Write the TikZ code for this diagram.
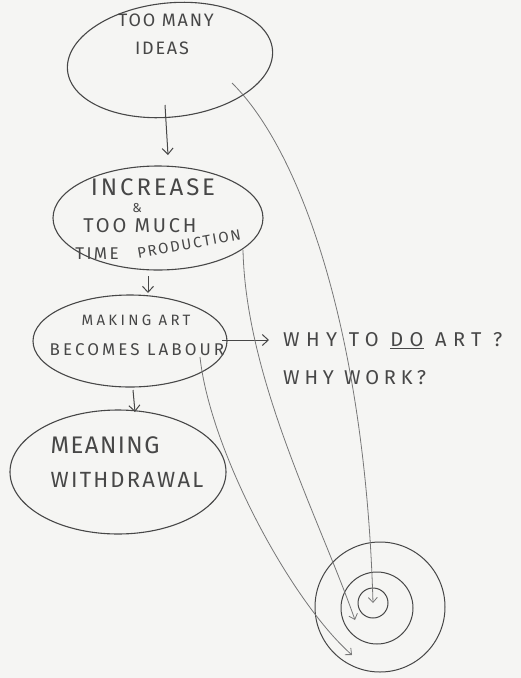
\documentclass[tikz,border=0pt]{standalone}
\usepackage{fontspec}
\setmainfont{Fira Sans}
\usetikzlibrary{arrows.meta,shapes.geometric,calc}
\definecolor{pencil}{HTML}{474747}
\definecolor{faint}{HTML}{777777}
\definecolor{paper}{HTML}{F5F5F3}
\newcommand{\hw}[2]{\fontsize{#1}{#1}\selectfont\addfontfeature{LetterSpace=#2}}
\begin{document}
\begin{tikzpicture}[x=1pt,y=-1pt,
  bubble/.style={draw=pencil, line width=1.1pt, ellipse, inner sep=0pt},
  ring/.style={draw=pencil, line width=1pt, circle, inner sep=0pt},
  hand/.style={text=pencil, inner sep=0pt},
  flow/.style={draw=pencil, line width=1pt, -{Straight Barb[length=6pt,width=11pt]}},
  thread/.style={draw=faint, line width=0.8pt, -{Straight Barb[length=5pt,width=9pt]}}]
\useasboundingbox[fill=paper] (0,0) rectangle (521,678);

% bubbles
\node[bubble, minimum width=206pt, minimum height=114pt, rotate=6] (e1) at (170,60) {};
\node[bubble, minimum width=210pt, minimum height=104pt] (e2) at (158,218) {};
\node[bubble, minimum width=194pt, minimum height=92pt] (e3) at (130,341) {};
\node[bubble, minimum width=216pt, minimum height=124pt] (e4) at (118,472) {};

% target rings
\node[ring, minimum size=30pt] (c1) at (373,603) {};
\node[ring, minimum size=72pt] (c2) at (377,608) {};
\node[ring, minimum size=130pt] (c3) at (380,607) {};

% texts
\node[hand, font=\hw{18}{10}] (t1a) at (166,20) {TOO MANY};
\node[hand, font=\hw{18}{10}] (t1b) at (162,48) {IDEAS};
\node[hand, font=\hw{24}{12}] (t2a) at (153,187) {INCREASE};
\node[hand, font=\hw{13}{0}] (t2b) at (137,208) {\&};
\node[hand, font=\hw{20}{14}] (t2c) at (140,226) {TOO MUCH};
\node[hand, font=\hw{17}{14}] (t2d) at (97,254) {TIME};
\node[hand, font=\hw{15}{12}, rotate=10] (t2e) at (189,244) {PRODUCTION};
\node[hand, font=\hw{15}{22}] (t3a) at (136,320) {MAKING ART};
\node[hand, font=\hw{17}{18}] (t3b) at (137,350) {BECOMES LABOUR};
\node[hand, font=\hw{24}{6}] (t4a) at (105,445) {MEANING};
\node[hand, font=\hw{22}{10}] (t4b) at (127,480) {WITHDRAWAL};
\node[hand, font=\hw{20}{32}, anchor=west] (w1) at (283,341) {WHY TO \underline{DO} ART ?};
\node[hand, font=\hw{20}{24}, anchor=west] (w2) at (283,378) {WHY WORK?};

% flow arrows
\draw[flow] ($(e1.center)+(-5,45)$) -- ($(e2.center)+(10,-63)$);
\draw[flow] ($(e2.center)+(-10,58)$) -- ($(e3.center)+(18,-48)$);
\draw[flow] ($(e3.center)+(3,49)$) -- ($(e4.center)+(17,-60)$);
\draw[flow] ($(e3.center)+(92,-1)$) -- ($(w1.west)+(-14,-1)$);

% threads into the target
\draw[thread] ($(e1.center)+(62,23)$) .. controls (300,150) and (365,330) .. (c1.center);
\draw[thread] ($(e2.center)+(85,32)$) .. controls (246,380) and (320,520) .. ($(c2.center)+(-22,12)$);
\draw[thread] ($(e3.center)+(70,16)$) .. controls (210,450) and (290,600) .. ($(c3.center)+(-28,48)$);
\end{tikzpicture}
\end{document}
